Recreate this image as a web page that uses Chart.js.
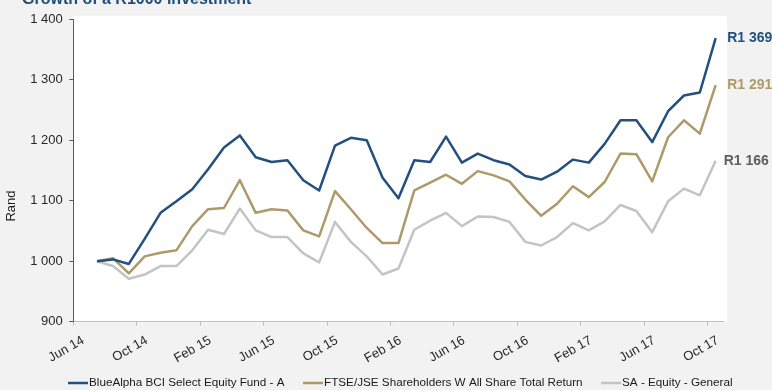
<!DOCTYPE html>
<html><head><meta charset="utf-8">
<script src="https://cdn.jsdelivr.net/npm/chart.js@4.4.0/dist/chart.umd.min.js"></script>
<style>html,body{margin:0;padding:0;background:#f2f2f2;}canvas{display:block;}</style>
</head><body>
<canvas id="c" width="772" height="390"></canvas>
<script>
const chartTitle = 'Growth of a R1000 investment';
const yAxisTitle = 'Rand';
const seriesNames = ['BlueAlpha BCI Select Equity Fund - A', 'FTSE/JSE Shareholders W All Share Total Return', 'SA - Equity - General'];
const months = ['Jul 14','Aug 14','Sep 14','Oct 14','Nov 14','Dec 14','Jan 15','Feb 15','Mar 15','Apr 15','May 15','Jun 15','Jul 15','Aug 15','Sep 15','Oct 15','Nov 15','Dec 15','Jan 16','Feb 16','Mar 16','Apr 16','May 16','Jun 16','Jul 16','Aug 16','Sep 16','Oct 16','Nov 16','Dec 16','Jan 17','Feb 17','Mar 17','Apr 17','May 17','Jun 17','Jul 17','Aug 17','Sep 17','Oct 17'];
const blueAlpha = [1000,1003,995.5,1037,1080,1099,1119,1152,1188,1208,1172,1164,1167,1134,1117,1191,1204,1200,1138,1104,1167,1164,1206,1163,1178,1167,1160,1141,1135,1148,1168,1163,1194,1233,1233,1197,1248,1274,1279,1369];
const ftseJse = [1000,1005,980,1008,1014,1018,1058,1086,1088,1134,1080,1086,1084,1051,1041,1116,1086,1055,1030,1030,1117,1130,1143,1128,1149,1142,1132,1102,1075,1095,1124,1106,1131,1178,1177,1132,1205,1233,1211,1291];
const saEquity = [1000,992,971,978,992,992,1018,1052,1045,1087,1051,1040,1040,1013,998,1065,1032,1008,978,988,1052,1067,1080,1058,1074,1073,1065,1032,1026,1040,1063,1051,1066,1093,1083,1048,1099,1120,1109,1166];
const endLabels = ['R1 369', 'R1 291', 'R1 166'];
const xTickLabels = ['Jun 14','Oct 14','Feb 15','Jun 15','Oct 15','Feb 16','Jun 16','Oct 16','Feb 17','Jun 17','Oct 17'];
const yTickValues = [900, 1000, 1100, 1200, 1300, 1400];
const yTickLabels = ['900', '1 000', '1 100', '1 200', '1 300', '1 400'];

const FONT = "'Liberation Sans', Arial, sans-serif";
const colors = ['#23507e', '#ae9a69', '#c4c4c4'];
const labelColors = ['#23507e', '#ae9a69', '#5f5f5f'];
const labelDx = [11.5, 11.5, 8];

// month position: months since Jun 2014 (tick = start of month, data = mid-month)
const toPoints = arr => arr.map((v, i) => ({ x: i + 1.5, y: v }));
const series = [blueAlpha, ftseJse, saEquity];

const decor = {
  id: 'decor',
  beforeDraw(chart) {
    const { ctx, chartArea: a } = chart;
    ctx.save();
    ctx.fillStyle = '#ffffff';
    const l = a.left - 0.5, t = a.top - 3.5, r = a.right + 3.5, b = a.bottom + 0.5, rad = 3;
    ctx.beginPath();
    ctx.moveTo(l, t);
    ctx.lineTo(r - rad, t);
    ctx.quadraticCurveTo(r, t, r, t + rad);
    ctx.lineTo(r, b);
    ctx.lineTo(l, b);
    ctx.closePath();
    ctx.fill();
    ctx.restore();
  },
  afterDraw(chart) {
    const { ctx } = chart;
    ctx.save();
    ctx.fillStyle = '#1f4e79';
    ctx.font = 'bold 16px ' + FONT;
    ctx.textAlign = 'left';
    ctx.textBaseline = 'alphabetic';
    ctx.fillText(chartTitle, 22, 4);
    ctx.save();
    ctx.translate(11.5, 206);
    ctx.rotate(-Math.PI / 2);
    ctx.fillStyle = '#1a1a1a';
    ctx.font = '13px ' + FONT;
    ctx.textAlign = 'center';
    ctx.textBaseline = 'middle';
    ctx.fillText(yAxisTitle, 0, 0);
    ctx.restore();
    ctx.font = 'bold 14px ' + FONT;
    ctx.textAlign = 'left';
    ctx.textBaseline = 'middle';
    chart.data.datasets.forEach((ds, i) => {
      const meta = chart.getDatasetMeta(i);
      const p = meta.data[meta.data.length - 1];
      ctx.fillStyle = labelColors[i];
      ctx.fillText(endLabels[i], p.x + labelDx[i], p.y);
    });
    ctx.font = '11.7px ' + FONT;
    ctx.textBaseline = 'middle';
    let x = 68;
    const y = 383;
    chart.data.datasets.forEach((ds, i) => {
      ctx.strokeStyle = ds.borderColor;
      ctx.lineWidth = 2.5;
      ctx.beginPath();
      ctx.moveTo(x, y);
      ctx.lineTo(x + 20, y);
      ctx.stroke();
      ctx.fillStyle = '#1a1a1a';
      ctx.fillText(ds.label, x + 21, y);
      x += 21 + ctx.measureText(ds.label).width + 18.5;
    });
    ctx.restore();
  }
};

new Chart(document.getElementById('c'), {
  type: 'line',
  data: {
    datasets: series.map((arr, i) => ({
      label: seriesNames[i],
      data: toPoints(arr),
      borderColor: colors[i],
      backgroundColor: colors[i],
      borderWidth: 2.5,
      pointRadius: 0,
      tension: 0,
      fill: false,
      borderJoinStyle: 'round'
    }))
  },
  options: {
    responsive: false,
    animation: false,
    layout: { padding: { left: 0, right: 48.4, top: 19.3, bottom: 0 } },
    plugins: { legend: { display: false }, tooltip: { enabled: false } },
    scales: {
      x: {
        type: 'linear', min: 0, max: 41,
        afterFit(s) { s.height = 68.3; },
        afterBuildTicks(s) { s.ticks = xTickLabels.map((_, k) => ({ value: k * 4 })); },
        border: { color: '#bfbfbf', width: 1 },
        grid: { drawOnChartArea: false, drawTicks: true, tickLength: 4, color: '#bfbfbf' },
        ticks: {
          autoSkip: false, minRotation: 30, maxRotation: 30, padding: 7, labelOffset: 10,
          color: '#262626', font: { family: FONT, size: 13 },
          callback: v => xTickLabels[Math.round(v / 4)]
        }
      },
      y: {
        min: 900, max: 1400,
        afterFit(s) { s.width = 73.3; },
        afterBuildTicks(s) { s.ticks = yTickValues.map(v => ({ value: v })); },
        border: { color: '#595959', width: 1 },
        grid: { drawOnChartArea: false, drawTicks: true, tickLength: 4, color: '#595959' },
        ticks: {
          padding: 6.5, color: '#262626', font: { family: FONT, size: 13 },
          callback: v => yTickLabels[yTickValues.indexOf(v)]
        }
      }
    }
  },
  plugins: [decor]
});
</script>
</body></html>
